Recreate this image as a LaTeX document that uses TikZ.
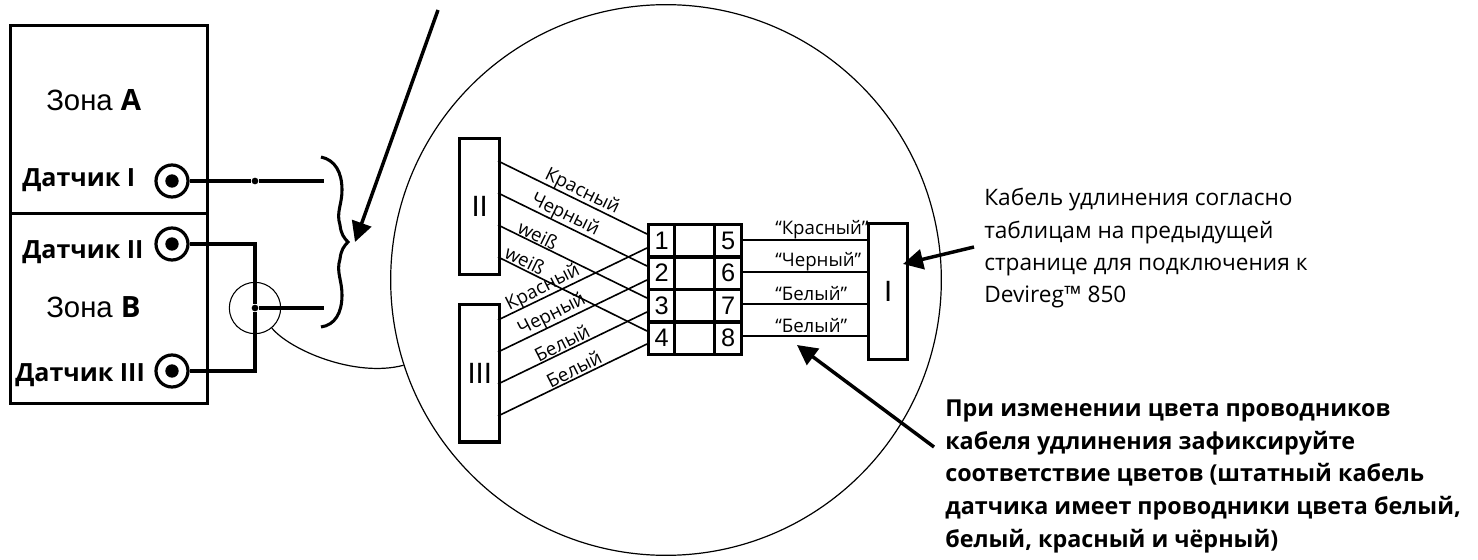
\documentclass[tikz,border=0pt]{standalone}
\usepackage{fontspec}
\setmainfont{Open Sans}
\newfontfamily\arialfont{Liberation Sans}
\usetikzlibrary{arrows.meta}
\tikzset{
  wire/.style={line width=2.3pt},
  thin wire/.style={line width=1.2pt},
  blockbox/.style={draw,line width=2.6pt,inner sep=0pt,anchor=north west},
  cell/.style={draw,line width=2.4pt,inner sep=0pt,anchor=north west,font=\arialfont\fontsize{19}{19}\selectfont},
  jack/.style={circle,draw,line width=2.4pt,minimum size=24pt,inner sep=0pt},
  pin/.style={circle,fill,minimum size=10pt,inner sep=0pt},
  knot/.style={circle,fill,minimum size=5pt,inner sep=0pt},
  biglabel/.style={font=\arialfont\fontsize{22}{22}\selectfont},
  sensorlabel/.style={font=\bfseries\fontsize{18.8}{18.8}\selectfont},
  colorlabel/.style={font=\fontsize{14}{14}\selectfont,inner sep=0pt},
  pointer/.style={line width=2.6pt,-{Triangle[length=15pt,width=15pt]}}
}
\begin{document}
\begin{tikzpicture}[x=0.75pt,y=0.75pt,yscale=-1,xscale=1]
    \useasboundingbox (0,0) rectangle (1478,560);

    %Zone boxes
    \node [blockbox,minimum width=147.75pt,minimum height=141pt] (zoneA) at (9,24) {};
    \node [blockbox,minimum width=147.75pt,minimum height=142.5pt] (zoneB) at (9,212) {};
    % Text Node
    \node [biglabel,anchor=west,inner sep=0pt] (zoneAtext) at (46,100) {Зона \textbf{\rmfamily A}};
    \node [biglabel,anchor=west,inner sep=0pt] (zoneBtext) at (46,307) {Зона \textbf{\rmfamily B}};
    \node [sensorlabel,anchor=west,inner sep=0pt] (sensorItext) at (22,180) {Датчик I};
    \node [sensorlabel,anchor=west,inner sep=0pt] (sensorIItext) at (22,252) {Датчик II};
    \node [sensorlabel,anchor=west,inner sep=0pt] (sensorIIItext) at (15,375) {Датчик III};

    %Sensor jacks
    \node [jack] (jackI) at (172,181) {};
    \node [jack] (jackII) at (172,244) {};
    \node [jack] (jackIII) at (172,371) {};
    \node [pin] (pinI) at (172,181) {};
    \node [pin] (pinII) at (172,244) {};
    \node [pin] (pinIII) at (172,371) {};

    %Sensor wires
    \node [knot] (knotA) at (255,181) {};
    \node [knot] (knotB) at (255,308) {};
    \coordinate (endA) at (324,181);
    \coordinate (endB) at (324,308);
    \draw [wire] (jackI) -- (knotA) -- (endA);
    \draw [wire] (jackII.east) -| (knotB) |- (jackIII.east);
    \draw [wire] (knotB) -- (endB);
    \node [circle,draw,line width=0.8pt,minimum size=38.5pt,inner sep=0pt] (splice) at (255,308) {};

    %Shape: Brace
    \draw [wire] (321,157) .. controls (335,160) and (342,172) .. (342,190) .. controls (342,205) and (336,212) .. (340,225) .. controls (341,234) and (344,238) .. (348,242) .. controls (344,246) and (341,250) .. (340,259) .. controls (336,272) and (342,280) .. (342,295) .. controls (342,313) and (335,325) .. (321,327);

    %Magnifier
    \node [circle,draw,line width=0.9pt,minimum size=413pt,inner sep=0pt] (lens) at (666,280) {};
    \draw [line width=0.9pt] (splice.-50) .. controls (290,350) and (355,378) .. (lens.198);

    %Top pointer
    \coordinate (topstart) at (438,10);
    \coordinate (toptip) at (355,242);
    \draw [pointer] (topstart) -- (toptip);

    %Connector blocks
    \node [blockbox,minimum width=30pt,minimum height=102pt] (blockII) at (458,137) {};
    \node at (blockII.center) (blockIItext) [biglabel] {II};
    \node [blockbox,minimum width=30pt,minimum height=103pt] (blockIII) at (458,303) {};
    \node at (blockIII.center) (blockIIItext) [biglabel] {III};
    \node [blockbox,minimum width=29pt,minimum height=102pt] (blockI) at (867,222) {};
    \node at (blockI.center) (blockItext) [biglabel] {I};

    %Terminal block
    \foreach \n/\m/\y in {1/5/223,2/6/255,3/7/288,4/8/320}{
      \node [cell,minimum width=19.5pt,minimum height=24.4pt] (t\n) at (647,\y) {\n};
      \node [cell,minimum width=30pt,minimum height=24.4pt] (mid\n) at (673,\y) {};
      \node [cell,minimum width=20.25pt,minimum height=24.4pt] (t\m) at (713,\y) {\m};
    }

    %Straight Lines
    \foreach \n/\y/\z in {1/161/234,2/193/266,3/225/298,4/257/331}{
      \coordinate (IIout\n) at (498,\y);
      \coordinate (IIin\n) at (647,\z);
      \draw [thin wire] (IIout\n) -- (IIin\n);
    }
    \foreach \n/\y/\z in {1/320/248,2/352/280,3/384/312,4/416/344}{
      \coordinate (IIIout\n) at (498,\y);
      \coordinate (IIIin\n) at (647,\z);
      \draw [thin wire] (IIIout\n) -- (IIIin\n);
    }
    \foreach \m/\y in {5/240,6/272,7/304,8/336}{
      \coordinate (Iin\m) at (867,\y);
      \draw [thin wire] (t\m.east |- Iin\m) -- (Iin\m);
    }

    % Text Node
    \node [colorlabel,rotate=-26] (wireIIa) at (582,192) {Красный};
    \node [colorlabel,rotate=-26] (wireIIb) at (565,215) {Черный};
    \node [colorlabel,rotate=-26] (wireIIc) at (538,235) {weiß};
    \node [colorlabel,rotate=-26] (wireIId) at (525,260) {weiß};
    \node [colorlabel,rotate=27] (wireIIIa) at (543,288) {Красный};
    \node [colorlabel,rotate=27] (wireIIIb) at (552,315) {Черный};
    \node [colorlabel,rotate=27] (wireIIIc) at (562,343) {Белый};
    \node [colorlabel,rotate=27] (wireIIId) at (574,369) {Белый};
    \node [colorlabel,anchor=west] (wireIa) at (775,230) {“Красный”};
    \node [colorlabel,anchor=west] (wireIb) at (775,262) {“Черный”};
    \node [colorlabel,anchor=west] (wireIc) at (775,294) {“Белый”};
    \node [colorlabel,anchor=west] (wireId) at (775,326) {“Белый”};

    %Notes
    \node [anchor=north west,inner sep=0pt,align=left,font=\fontsize{17}{24.3}\selectfont] (cablenote) at (984,188) {Кабель удлинения согласно\\таблицам на предыдущей\\странице для подключения к\\Devireg™ 850};
    \node [anchor=north west,inner sep=0pt,align=left,font=\bfseries\fontsize{17.5}{24.4}\selectfont] (colornote) at (945,400) {При изменении цвета проводников\\кабеля удлинения зафиксируйте\\соответствие цветов (штатный кабель\\датчика имеет проводники цвета белый,\\белый, красный и чёрный)};
    \coordinate (cablestart) at (974,247);
    \coordinate (cabletip) at (903,264);
    \draw [pointer] (cablestart) -- (cabletip);
    \coordinate (colorstart) at (934,447);
    \coordinate (colortip) at (797,345);
    \draw [pointer] (colorstart) -- (colortip);
\end{tikzpicture}
\end{document}
